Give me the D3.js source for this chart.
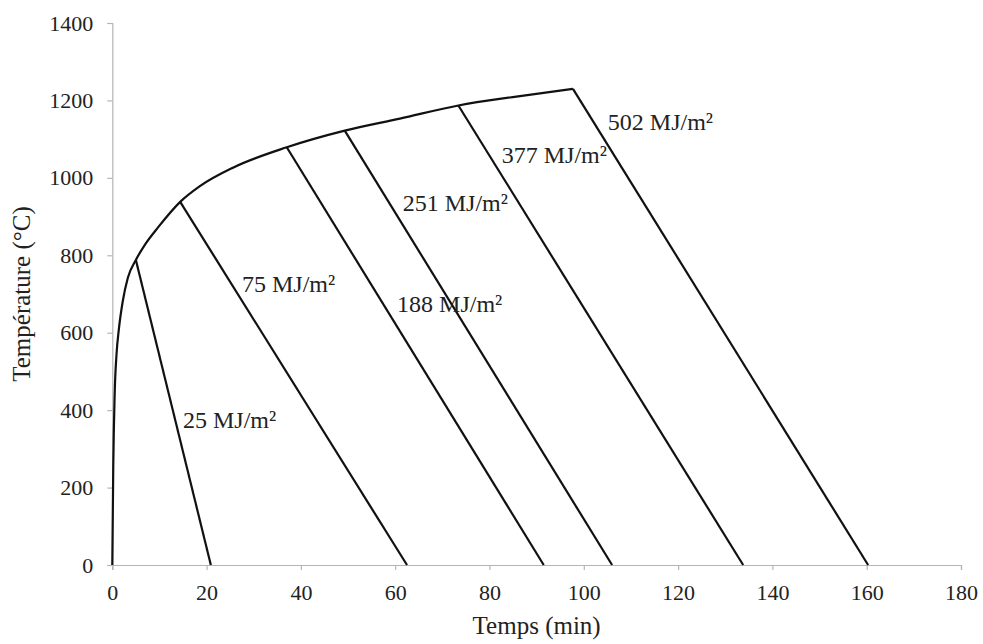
<!DOCTYPE html>
<html>
<head>
<meta charset="utf-8">
<script src="https://cdn.jsdelivr.net/npm/d3@7"></script>
<style>
  html, body { margin: 0; padding: 0; background: #fff; }
  svg { display: block; }
  text { font-family: "Liberation Serif", "Times New Roman", serif; fill: #222; }
</style>
</head>
<body>
<svg id="chart" width="983" height="644"></svg>
<script>
// Common heating branch (time in min, temperature in °C)
const heatTime = [0, 0.2, 0.5, 0.9, 1.4, 2.2, 3.3, 5.0, 6.9, 9.7, 14.4, 18.5, 25.7, 37.0, 49.3, 61.0, 73.4, 85.7, 97.7];
const heatTemp = [0, 250, 440, 545, 610, 680, 742, 788, 827, 872, 938, 978, 1027, 1079, 1122, 1153, 1187, 1210, 1230];

// Fire load densities and their cooling branches
const fireLoads = ["25 MJ/m²", "75 MJ/m²", "188 MJ/m²", "251 MJ/m²", "377 MJ/m²", "502 MJ/m²"];
const peakTime  = [5.0, 14.4, 37.0, 49.3, 73.4, 97.7];
const peakTemp  = [788, 938, 1079, 1122, 1187, 1230];
const endTime   = [20.9, 62.5, 91.5, 106.0, 133.8, 160.3];

// Axis ticks
const xTicks = [0, 20, 40, 60, 80, 100, 120, 140, 160, 180];
const yTicks = [0, 200, 400, 600, 800, 1000, 1200, 1400];

const svg = d3.select("#chart");
const plotLeft = 112.3, plotRight = 961, plotTop = 23, plotBottom = 565;
const serif = '"Liberation Serif", "Times New Roman", serif';

const x = d3.scaleLinear().domain([0, 180]).range([plotLeft, plotRight]);
const y = d3.scaleLinear().domain([0, 1400]).range([plotBottom, plotTop]);

// Axes
const xAxis = d3.axisBottom(x).tickValues(xTicks).tickFormat(d3.format("d")).tickSize(5).tickPadding(14);
const yAxis = d3.axisLeft(y).tickValues(yTicks).tickFormat(d3.format("d")).tickSize(5).tickPadding(14);

const gx = svg.append("g").attr("transform", `translate(0,${plotBottom})`).call(xAxis);
const gy = svg.append("g").attr("transform", `translate(${plotLeft},0)`).call(yAxis);

[gx, gy].forEach(g => {
  g.attr("font-family", serif).attr("font-size", 22);
  g.select(".domain").attr("stroke", "#b5b5b5").attr("stroke-width", 1.2);
  g.selectAll(".tick line").attr("stroke", "#b5b5b5").attr("stroke-width", 1.2);
  g.selectAll(".tick text").attr("fill", "#333");
});

// Axis titles
svg.append("text")
  .attr("x", (plotLeft + plotRight) / 2)
  .attr("y", 634)
  .attr("text-anchor", "middle")
  .style("font-size", "25px")
  .text("Temps (min)");

svg.append("text")
  .attr("transform", `translate(30,${(plotTop + plotBottom) / 2}) rotate(-90)`)
  .attr("text-anchor", "middle")
  .style("font-size", "25px")
  .text("Température (°C)");

// Heating curve
const line = d3.line()
  .x((d, i) => x(heatTime[i]))
  .y((d, i) => y(heatTemp[i]))
  .curve(d3.curveMonotoneX);

svg.append("path")
  .attr("d", line(heatTime))
  .attr("fill", "none")
  .attr("stroke", "#111")
  .attr("stroke-width", 2.2)
  .attr("stroke-linejoin", "round");

// Cooling branches
const coolLine = d3.line().x(d => x(d[0])).y(d => y(d[1]));
fireLoads.forEach((name, i) => {
  svg.append("path")
    .attr("d", coolLine([[peakTime[i], peakTemp[i]], [endTime[i], 0]]))
    .attr("fill", "none")
    .attr("stroke", "#111")
    .attr("stroke-width", 2.2);
});

// Branch labels, anchored in data coordinates
const labelAt = [[15.0, 354], [27.5, 705], [60.4, 654], [61.6, 914], [82.6, 1038], [105.1, 1124]];
fireLoads.forEach((name, i) => {
  svg.append("text")
    .attr("x", x(labelAt[i][0]))
    .attr("y", y(labelAt[i][1]))
    .style("font-size", "24px")
    .text(name);
});
</script>
</body>
</html>
